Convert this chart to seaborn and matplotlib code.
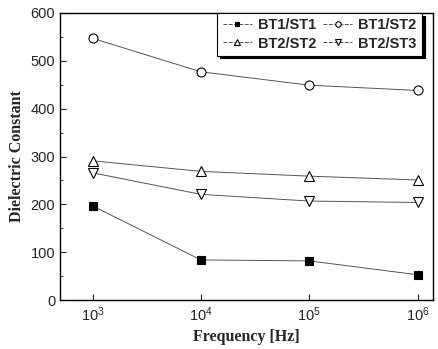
import seaborn as sns
import pandas as pd
import matplotlib.pyplot as plt
from matplotlib.ticker import MultipleLocator, LogLocator, NullLocator

freq = [1e3, 1e4, 1e5, 1e6]
bt1_st1 = [197, 84, 82, 53]
bt1_st2 = [547, 477, 449, 438]
bt2_st2 = [291, 269, 259, 251]
bt2_st3 = [266, 221, 207, 204]

series = {"BT1/ST1": bt1_st1, "BT1/ST2": bt1_st2, "BT2/ST2": bt2_st2, "BT2/ST3": bt2_st3}
markers = {"BT1/ST1": "s", "BT1/ST2": "o", "BT2/ST2": "^", "BT2/ST3": "v"}
faces = {"BT1/ST1": "black", "BT1/ST2": "white", "BT2/ST2": "white", "BT2/ST3": "white"}

rows = []
for name, vals in series.items():
    for f, v in zip(freq, vals):
        rows.append({"freq": f, "val": v, "sample": name})
df = pd.DataFrame(rows)

sns.set_style("ticks")
plt.rcParams["font.family"] = ["Liberation Sans", "DejaVu Sans"]

fig, ax = plt.subplots(figsize=(4.38, 3.49), dpi=100)
fig.subplots_adjust(left=0.137, right=0.988, top=0.963, bottom=0.14)

for name in series:
    d = df[df["sample"] == name]
    sns.lineplot(data=d, x="freq", y="val", ax=ax, color="#555555", lw=0.7,
                 marker=markers[name], markersize=6.5 if name != "BT1/ST1" else 6,
                 markerfacecolor=faces[name], markeredgecolor="black",
                 markeredgewidth=0.8, label=name, legend=False)

ax.set_xscale("log")
ax.set_xlim(10**2.70, 10**6.14)
ax.set_ylim(0, 600)
ax.yaxis.set_major_locator(MultipleLocator(100))
ax.yaxis.set_minor_locator(MultipleLocator(50))
ax.xaxis.set_major_locator(LogLocator(base=10, numticks=10))
ax.xaxis.set_minor_locator(NullLocator())
ax.tick_params(direction="in", which="both", top=False, right=False, labelsize=10.5)
ax.tick_params(which="major", length=4)
ax.tick_params(which="minor", length=2)
for s in ax.spines.values():
    s.set_linewidth(1.0)
    s.set_color("black")

ax.set_xlabel("Frequency [Hz]", family="Liberation Serif", fontweight="bold", fontsize=11.5)
ax.set_ylabel("Dielectric Constant", family="Liberation Serif", fontweight="bold", fontsize=11.5)

# legend rows: BT1/ST1 BT1/ST2 / BT2/ST2 BT2/ST3 (matplotlib fills by column)
handles, labels = ax.get_legend_handles_labels()
order = [labels.index(k) for k in ["BT1/ST1", "BT2/ST2", "BT1/ST2", "BT2/ST3"]]
leg = ax.legend([handles[i] for i in order], [labels[i] for i in order],
                ncol=2, loc="upper right", bbox_to_anchor=(0.99, 1.025), frameon=True,
                fancybox=False, shadow={"color": "black", "alpha": 1},
                prop={"weight": "bold", "size": 10.5}, markerscale=0.6,
                columnspacing=0.5, handlelength=2.0, handletextpad=0.4,
                borderpad=0.35, labelspacing=0.3)
leg.get_frame().set_edgecolor("black")
leg.get_frame().set_linewidth(0.8)
for h in leg.legend_handles:
    h.set_linestyle((0, (4, 1.5)))

fig.savefig("out.png")
